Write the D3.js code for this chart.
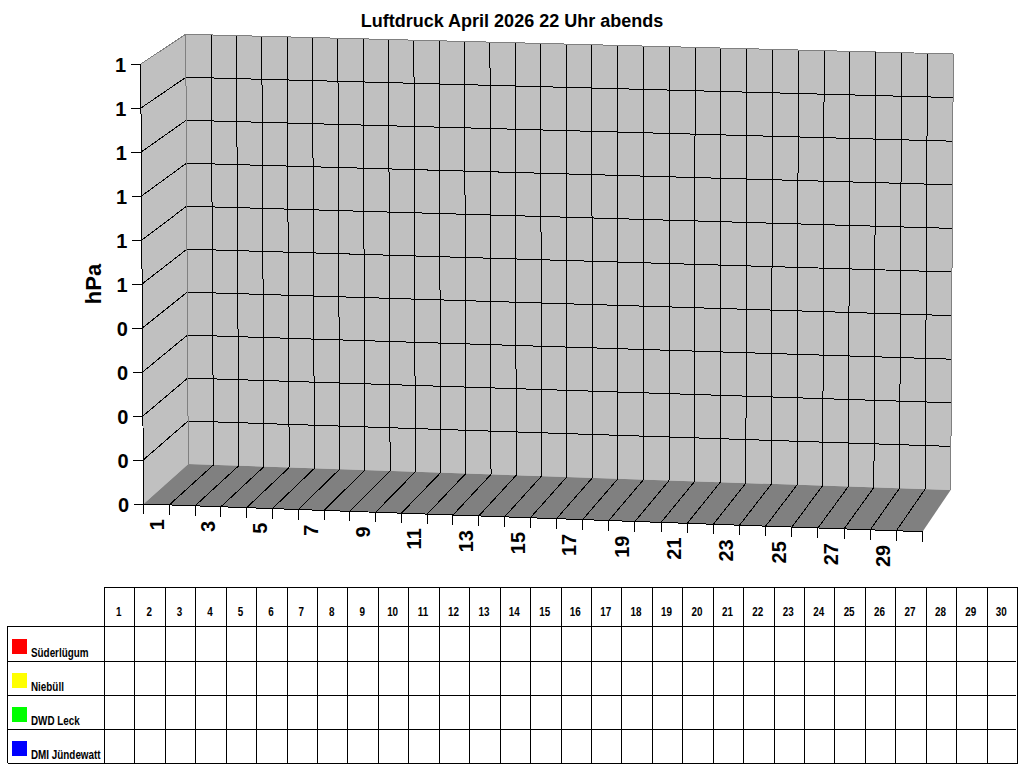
<!DOCTYPE html>
<html><head><meta charset="utf-8">
<script src="https://cdn.jsdelivr.net/npm/d3@7"></script>
<style>html,body{margin:0;padding:0;background:#fff}svg{display:block}
text{font-family:"Liberation Sans",Arial,sans-serif;font-weight:bold;fill:#000}
.n{font-size:12.5px}
</style></head><body>
<svg id="c" width="1024" height="768"></svg>
<script>
const title = "Luftdruck April 2026 22 Uhr abends";
const yTitle = "hPa";
const categories = d3.range(1, 31).map(String);
const yTickValues = [0, 0.1, 0.2, 0.3, 0.4, 0.5, 0.6, 0.7, 0.8, 0.9, 1];
const yTickLabels = ["0", "0", "0", "0", "0", "1", "1", "1", "1", "1", "1"];
const xTickLabels = categories.filter((d, i) => i % 2 === 0);
const seriesNames = ["Süderlügum", "Niebüll", "DWD Leck", "DMI Jündewatt"];
const seriesColors = ["#ff0000", "#ffff00", "#00ff00", "#0000ff"];
// The month has no readings yet: all series are empty.
const seriesValues = [[], [], [], []];

const svg = d3.select("#c");
const n = categories.length;
// slight perspective: horizontal positions use a mid stop
const idx = d3.scaleLinear().domain([0, n / 2, n]);
const frontX = idx.copy().range([143.5, 530.3, 922.5]);
const frontY = d3.scaleLinear().domain([0, n]).range([504, 531.7]);
const backBotX = idx.copy().range([188.3, 566.7, 950.7]);
const backBotY = d3.scaleLinear().domain([0, n]).range([464, 490]);
const backTopX = idx.copy().range([185.7, 566, 953.3]);
const backTopY = d3.scaleLinear().domain([0, n]).range([34.3, 54]);
const val = d3.scaleLinear().domain([0, 1]);
const leftX = val.copy().range([143.5, 140.7]);
const leftFront = val.copy().range([504, 64]);
const backLeftX = val.copy().range([188.3, 185.7]);
const backLeft = val.copy().range([464, 34.3]);
const backRightX = val.copy().range([950.7, 953.3]);
const backRight = val.copy().range([490, 54]);

const poly = p => "M" + p.map(d => d.join(",")).join("L") + "Z";
const plot = svg.append("g");
// walls
plot.append("path").attr("fill", "#c0c0c0")
  .attr("d", poly([[leftX(1), leftFront(1)], [backLeftX(1), backLeft(1)], [backLeftX(0), backLeft(0)], [leftX(0), leftFront(0)]]));
plot.append("path").attr("fill", "#c0c0c0")
  .attr("d", poly([[backTopX(0), backTopY(0)], [backTopX(n), backTopY(n)], [backBotX(n), backBotY(n)], [backBotX(0), backBotY(0)]]));
plot.append("path").attr("fill", "#808080")
  .attr("d", poly([[backBotX(0), backBotY(0)], [backBotX(n), backBotY(n)], [frontX(n), frontY(n)], [frontX(0), frontY(0)]]));

const line = (g, data, f, stroke) => g.selectAll(null).data(data).join("line")
  .attr("x1", d => f(d)[0]).attr("y1", d => f(d)[1]).attr("x2", d => f(d)[2]).attr("y2", d => f(d)[3])
  .attr("stroke", stroke).attr("stroke-width", 1).attr("shape-rendering", "crispEdges");

const inner = d3.range(1, n);
const innerVals = yTickValues.slice(1, -1);
// back wall verticals
line(plot, inner, i => [backTopX(i), backTopY(i), backBotX(i), backBotY(i)], "#000");
// horizontal grid on back wall and left wall
line(plot, innerVals, v => [backLeftX(v), backLeft(v), backRightX(v), backRight(v)], "#000");
line(plot, innerVals, v => [leftX(v), leftFront(v), backLeftX(v), backLeft(v)], "#000");
// floor lines
line(plot, inner, i => [backBotX(i), backBotY(i), frontX(i), frontY(i)], "#000");
// grey outer edges
line(plot, [0], () => [backTopX(0), backTopY(0), backBotX(0), backBotY(0)], "#808080");
line(plot, [0], () => [backTopX(0), backTopY(0), backTopX(n), backTopY(n)], "#808080");
line(plot, [0], () => [backTopX(n), backTopY(n), backBotX(n), backBotY(n)], "#808080");
line(plot, [0], () => [leftX(1), leftFront(1), backTopX(0), backTopY(0)], "#808080");
// axes
line(plot, [0], () => [leftX(0), leftFront(0), leftX(1), leftFront(1)], "#000");
line(plot, [0], () => [frontX(0), frontY(0), frontX(n), frontY(n)], "#000");
line(plot, yTickValues, v => [leftX(v) - 10, leftFront(v), leftX(v), leftFront(v)], "#000");
line(plot, d3.range(0, n + 1), i => [frontX(i), frontY(i), frontX(i), frontY(i) + 10], "#000");

svg.append("g").selectAll("text").data(yTickValues).join("text")
  .attr("x", v => leftX(v) - 14.5).attr("y", v => leftFront(v) + 7.5)
  .attr("text-anchor", "end").attr("font-size", 20)
  .text((v, i) => yTickLabels[i]);

svg.append("g").selectAll("text").data(xTickLabels).join("text")
  .attr("transform", d => {
    const i = categories.indexOf(d);
    return `translate(${frontX(i) + 20},${frontY(i) + 15}) rotate(-90)`;
  })
  .attr("text-anchor", "end").attr("font-size", 20).text(d => d);

svg.append("text").attr("x", 512).attr("y", 27).attr("text-anchor", "middle").attr("font-size", 18).text(title);
svg.append("text").attr("transform", "translate(101,284) rotate(-90)").attr("text-anchor", "middle").attr("font-size", 22).text(yTitle);

// data table
const tx = d3.scaleLinear().domain([0, n]).range([104.5, 1017.5]);
const rowEdges = [626, 661, 695, 729, 763];
const rowY = d3.scaleLinear().domain([0, 1]).range([639, 673]);
const tbl = svg.append("g");
line(tbl, d3.range(0, n + 1), i => [tx(i), 587, tx(i), 763], "#000");
line(tbl, [587, 626], y => [104.5, y, 1017.5, y], "#000");
line(tbl, rowEdges.slice(1), y => [7.5, y, y === 763 ? 1017.5 : 1016, y], "#000");
line(tbl, [626], y => [7.5, y, 104.5, y], "#000");
line(tbl, [0], () => [7.5, 626, 7.5, 763], "#000");
const narrow = 0.79;
tbl.selectAll("text.h").data(categories).join("text").attr("class", "h n")
  .attr("transform", (d, i) => `translate(${(tx(i) + tx(i + 1)) / 2 - 1},616) scale(${narrow},1)`)
  .attr("text-anchor", "middle").text(d => d);
const rows = seriesNames.map((name, i) => ({ name, color: seriesColors[i], values: seriesValues[i], row: i }));
tbl.selectAll("rect").data(rows).join("rect")
  .attr("x", 12).attr("y", d => rowY(d.row)).attr("width", 15).attr("height", 15).attr("fill", d => d.color);
tbl.selectAll("text.l").data(rows).join("text").attr("class", "l n")
  .attr("transform", d => `translate(31,${rowY(d.row) + 18}) scale(${narrow},1)`).text(d => d.name);
</script>
</body></html>
